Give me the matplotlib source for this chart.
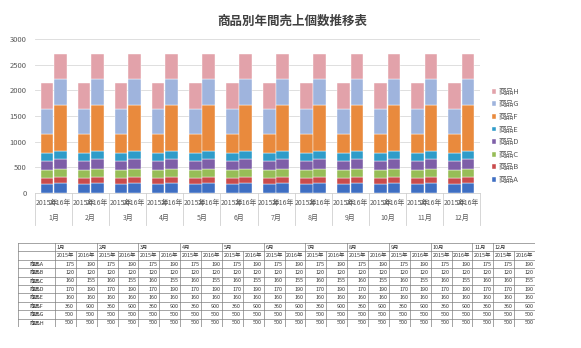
import matplotlib.pyplot as plt
import numpy as np
from matplotlib.transforms import blended_transform_factory

plt.rcParams['font.family'] = ['Noto Sans CJK JP', 'DejaVu Sans']

# Sales data (same every month)
products = ['商品A', '商品B', '商品C', '商品D', '商品E', '商品F', '商品G', '商品H']
sales_2015 = [175, 120, 160, 170, 160, 360, 500, 500]
sales_2016 = [190, 120, 155, 190, 160, 900, 500, 500]
years = ['2015年', '2016年']
months = ['1月', '2月', '3月', '4月', '5月', '6月', '7月', '8月', '9月', '10月', '11月', '12月']
# columns left out of the table underneath
hidden_cols = [('11月', '2016年')]
colors = ['#3F6FC3', '#C94B4C', '#97BD57', '#7E5FA8', '#2F9CC9', '#E98A3D', '#9FB4DD', '#E2A2AA']

W, H = 581, 348
fig = plt.figure(figsize=(W / 100, H / 100), dpi=100)

def box(x0, y0, x1, y1):
    return [x0 / W, 1 - y1 / H, (x1 - x0) / W, (y1 - y0) / H]

fig.text(292 / W, 1 - 21 / H, '商品別年間売上個数推移表', ha='center', va='center',
         fontsize=9, fontweight='bold', color='#404040')

# ---- stacked bar chart ----
ax = fig.add_axes(box(35, 39, 480, 193))
x = np.arange(len(months)) + 0.5
offsets = [-0.18, 0.18]
for yi, vals in enumerate([sales_2015, sales_2016]):
    bottom = np.zeros(len(months))
    for p, v in enumerate(vals):
        h = np.full(len(months), v)
        ax.bar(x + offsets[yi], h, width=0.34, bottom=bottom, color=colors[p],
               edgecolor='white', linewidth=0.3, label=products[p] if yi == 0 else None)
        bottom += h

ax.set_xlim(0, len(months))
ax.set_ylim(0, 3000)
ax.set_yticks(range(0, 3001, 500))
ax.tick_params(axis='y', length=0, labelsize=5.5, labelcolor='#595959', pad=6)
ax.set_xticks([])
ax.grid(axis='y', color='#D9D9D9', linewidth=0.6)
ax.set_axisbelow(True)
for s in ['left', 'right', 'top']:
    ax.spines[s].set_visible(False)
ax.spines['bottom'].set_color('#D0D0D0')
ax.spines['bottom'].set_linewidth(0.6)

tr = blended_transform_factory(ax.transData, ax.transAxes)
for i, m in enumerate(months):
    for yi, yr in enumerate(years):
        ax.text(x[i] + offsets[yi], -0.065, yr, transform=tr, ha='center', va='center',
                fontsize=5, color='#595959')
    ax.text(x[i], -0.165, m, transform=tr, ha='center', va='center',
            fontsize=5, color='#595959')
for i in range(len(months) + 1):
    ax.plot([i, i], [0, -0.21], transform=tr, color='#D0D0D0', linewidth=0.6, clip_on=False)

handles, labels = ax.get_legend_handles_labels()
fig.legend(handles[::-1], labels[::-1], loc='upper left', bbox_to_anchor=(485 / W, 1 - 81 / H),
           frameon=False, fontsize=5.5, handlelength=0.6, handleheight=0.6,
           handletextpad=0.3, labelspacing=0.6, labelcolor='#595959')

# ---- data table ----
table_cols = [(m, y) for m in months for y in years if (m, y) not in hidden_cols]
lab_w = 1.77
n_cols = len(table_cols)
n_rows = 2 + len(products)
tax = fig.add_axes(box(18, 243, 535, 327))
tax.set_xlim(0, lab_w + n_cols)
tax.set_ylim(n_rows, 0)
tax.axis('off')

line_kw = dict(color='#808080', linewidth=0.5)
fs = 3.9
# horizontal lines
for r in range(n_rows + 1):
    tax.plot([0, lab_w + n_cols], [r, r], **line_kw)
# vertical lines
tax.plot([0, 0], [0, n_rows], **line_kw)
tax.plot([lab_w, lab_w], [0, n_rows], **line_kw)
for c, (m, y) in enumerate(table_cols):
    xr = lab_w + c + 1
    last_of_month = c == n_cols - 1 or table_cols[c + 1][0] != m
    tax.plot([xr, xr], [0 if last_of_month else 1, n_rows], **line_kw)
    if c == 0 or table_cols[c - 1][0] != m:
        tax.text(lab_w + c + 0.08, 0.5, m, ha='left', va='center', fontsize=fs, color='#333333')
    tax.text(lab_w + c + 0.5, 1.5, y, ha='center', va='center', fontsize=fs, color='#333333')
    vals = sales_2015 if y == years[0] else sales_2016
    for p, v in enumerate(vals):
        tax.text(xr - 0.08, 2.5 + p, str(v), ha='right', va='center', fontsize=fs, color='#333333')
for p, name in enumerate(products):
    tax.text(lab_w / 2, 2.5 + p, name, ha='center', va='center', fontsize=fs, color='#333333')

fig.savefig('out.png', dpi=100)
